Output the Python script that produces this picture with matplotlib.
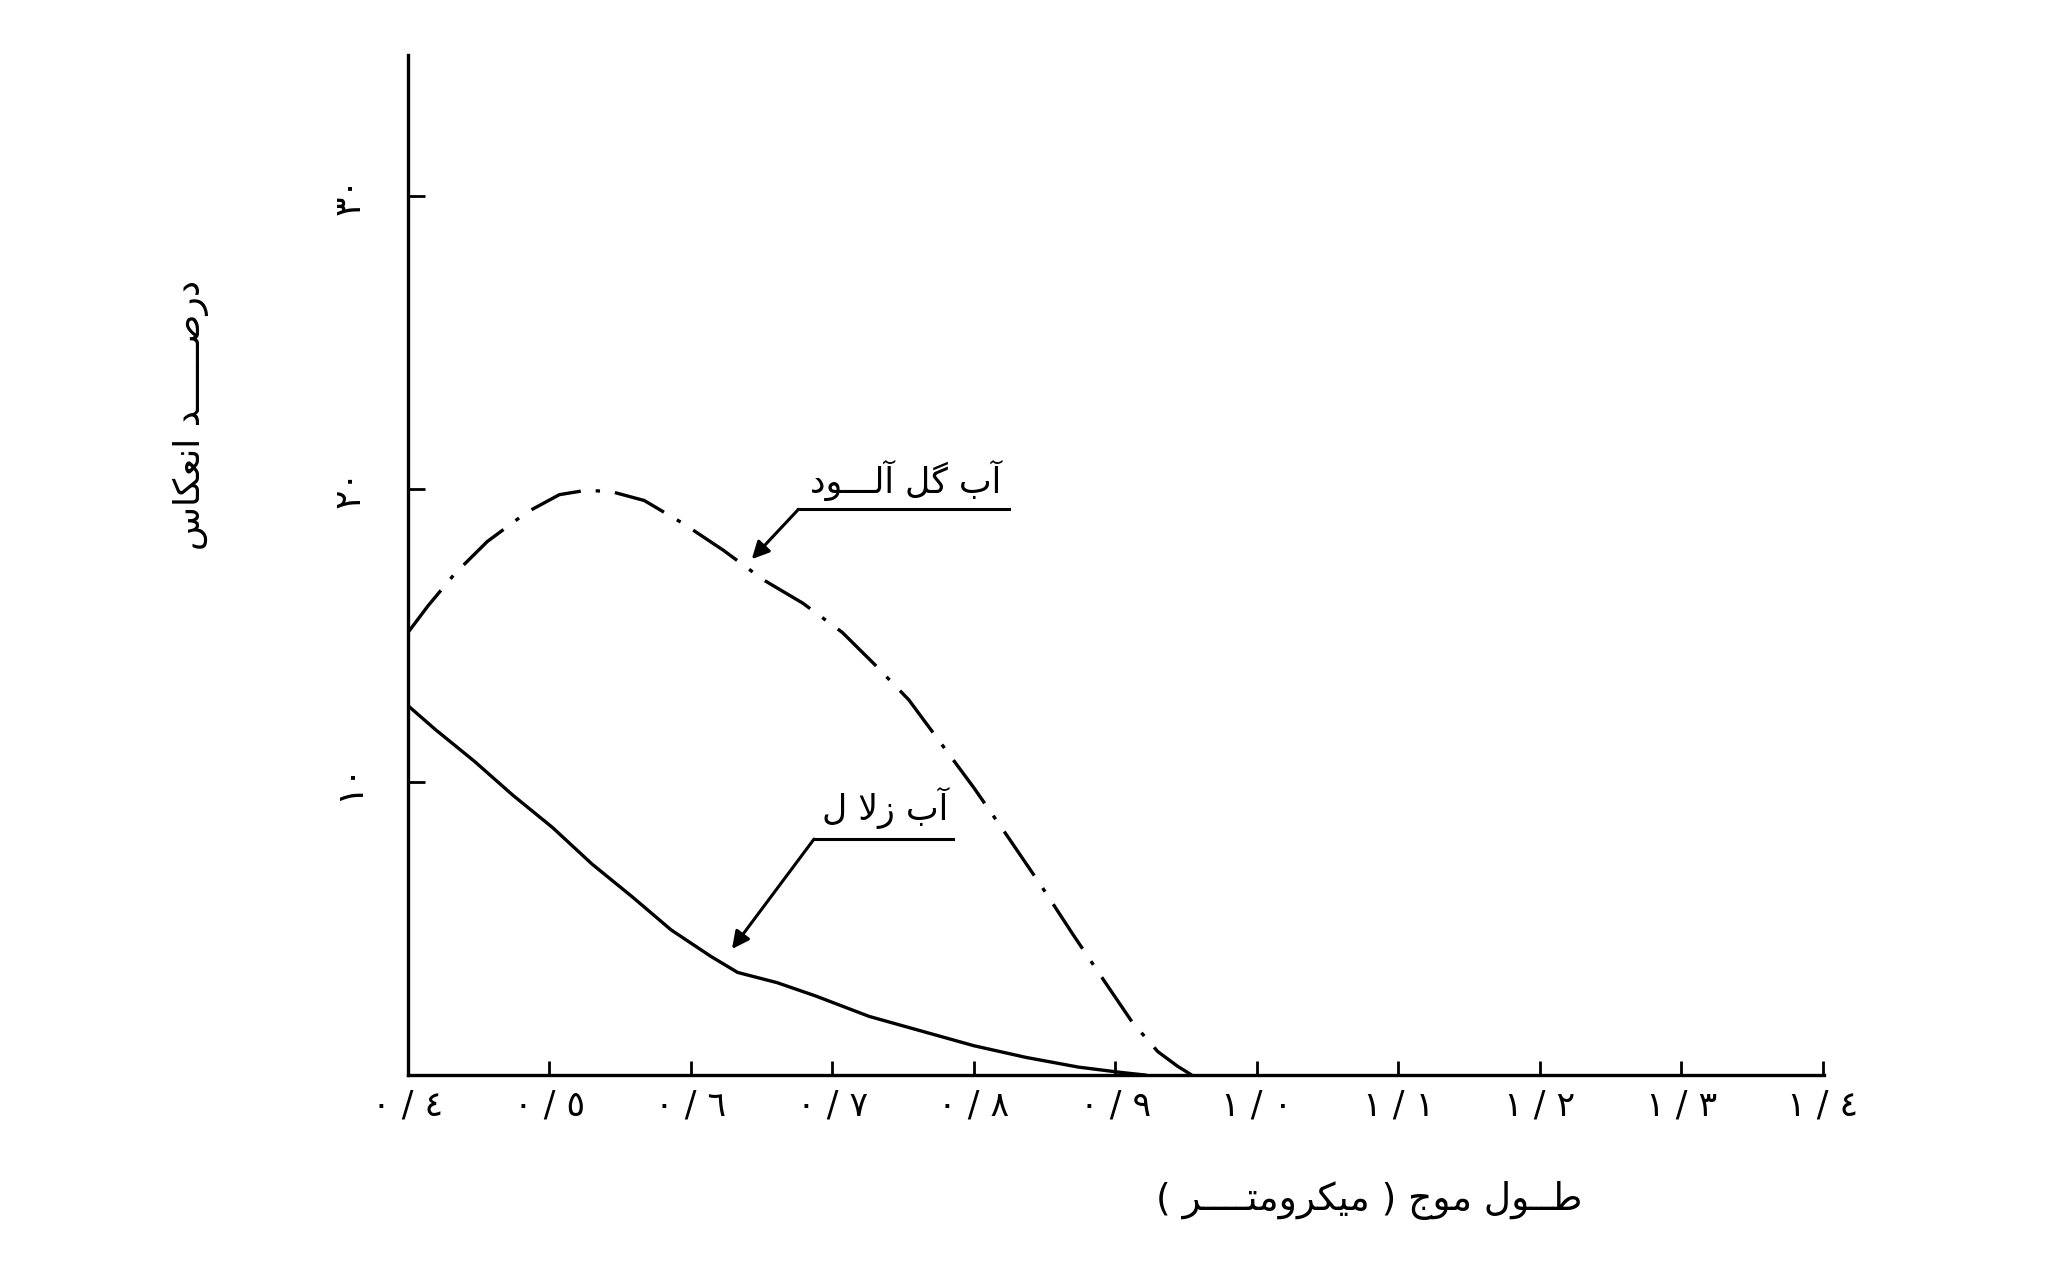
import matplotlib
matplotlib.use('Agg')
import matplotlib.pyplot as plt

# wavelength (micrometre) and reflectance (%)
muddy_x = [0.400, 0.414, 0.433, 0.456, 0.484, 0.507, 0.526, 0.544, 0.567, 0.595,
           0.623, 0.651, 0.679, 0.707, 0.730, 0.754, 0.777, 0.800, 0.823, 0.847,
           0.870, 0.893, 0.912, 0.930, 0.944, 0.954]
muddy_y = [15.1, 16.0, 17.1, 18.2, 19.2, 19.8, 19.95, 19.9, 19.6, 18.8,
           17.9, 16.9, 16.1, 15.1, 14.0, 12.8, 11.3, 9.8, 8.2, 6.5,
           4.8, 3.15, 1.8, 0.8, 0.3, 0.0]
clear_x = [0.400, 0.419, 0.447, 0.474, 0.502, 0.530, 0.558, 0.586, 0.614, 0.633,
           0.661, 0.688, 0.726, 0.763, 0.800, 0.837, 0.874, 0.902, 0.921]
clear_y = [12.6, 11.8, 10.7, 9.55, 8.45, 7.2, 6.1, 4.95, 4.05, 3.5,
           3.15, 2.7, 2.0, 1.5, 1.0, 0.6, 0.27, 0.1, 0.0]

x_ticks = [0.4, 0.5, 0.6, 0.7, 0.8, 0.9, 1.0, 1.1, 1.2, 1.3, 1.4]
x_labels = ['٠ / ٤', '٠ / ٥', '٠ / ٦', '٠ / ٧', '٠ / ٨', '٠ / ٩',
            '١ / ٠', '١ / ١', '١ / ٢', '١ / ٣', '١ / ٤']
y_ticks = [10, 20, 30]
y_labels = ['١٠', '٢٠', '٣٠']

x_title = 'طــول موج ( میکرومتــــر )'
y_title = 'درصــــــد انعکاس'
muddy_name = 'آب گل آلـــود'
clear_name = 'آب زلا ل'

# matplotlib has no arabic shaping, so pick presentation forms by hand
FORMS = {
    'ا': ('\uFE8D', '\uFE8E', None, None),
    'آ': ('\uFE81', '\uFE82', None, None),
    'ب': ('\uFE8F', '\uFE90', '\uFE91', '\uFE92'),
    'ت': ('\uFE95', '\uFE96', '\uFE97', '\uFE98'),
    'ج': ('\uFE9D', '\uFE9E', '\uFE9F', '\uFEA0'),
    'د': ('\uFEA9', '\uFEAA', None, None),
    'ر': ('\uFEAD', '\uFEAE', None, None),
    'ز': ('\uFEAF', '\uFEB0', None, None),
    'س': ('\uFEB1', '\uFEB2', '\uFEB3', '\uFEB4'),
    'ص': ('\uFEB9', '\uFEBA', '\uFEBB', '\uFEBC'),
    'ط': ('\uFEC1', '\uFEC2', '\uFEC3', '\uFEC4'),
    'ع': ('\uFEC9', '\uFECA', '\uFECB', '\uFECC'),
    'ل': ('\uFEDD', '\uFEDE', '\uFEDF', '\uFEE0'),
    'م': ('\uFEE1', '\uFEE2', '\uFEE3', '\uFEE4'),
    'ن': ('\uFEE5', '\uFEE6', '\uFEE7', '\uFEE8'),
    'و': ('\uFEED', '\uFEEE', None, None),
    'ی': ('\uFBFC', '\uFBFD', '\uFBFE', '\uFBFF'),
    'ک': ('\uFB8E', '\uFB8F', '\uFB90', '\uFB91'),
    'گ': ('\uFB92', '\uFB93', '\uFB94', '\uFB95'),
    'ـ': ('ـ', 'ـ', 'ـ', 'ـ'),
}
LAM_ALEF = {'ا': ('\uFEFB', '\uFEFC'), 'آ': ('\uFEF5', '\uFEF6')}


def shape(s):
    out = []
    i = 0
    while i < len(s):
        c = s[i]
        if c not in FORMS:
            out.append(c)
            i += 1
            continue
        prev = s[i - 1] if i > 0 else None
        nxt = s[i + 1] if i + 1 < len(s) else None
        join_prev = prev in FORMS and FORMS[prev][2] is not None
        if c == 'ل' and nxt in LAM_ALEF:
            out.append(LAM_ALEF[nxt][1 if join_prev else 0])
            i += 2
            continue
        join_next = nxt in FORMS and FORMS[c][2] is not None
        iso, fin, ini, med = FORMS[c]
        if join_prev and join_next:
            out.append(med)
        elif join_prev:
            out.append(fin)
        elif join_next:
            out.append(ini)
        else:
            out.append(iso)
        i += 1
    vis = ''.join(reversed(out))
    return vis.translate(str.maketrans('()', ')('))


plt.rcParams['font.family'] = 'DejaVu Sans'
fig = plt.figure(figsize=(20.65, 12.64), dpi=100)
ax = fig.add_axes([0.1976, 0.1495, 0.6857, 0.807])

ax.plot(clear_x, clear_y, color='black', lw=2.4)
ax.plot(muddy_x, muddy_y, color='black', lw=2.4, linestyle=(0, (16, 4.5, 1.3, 4.5)))

ax.set_xlim(0.4, 1.401)
ax.set_ylim(0, 34.8)
for s in ['top', 'right']:
    ax.spines[s].set_visible(False)
for s in ['left', 'bottom']:
    ax.spines[s].set_linewidth(2.4)

ax.set_xticks(x_ticks)
ax.set_xticklabels(x_labels, fontsize=25)
ax.set_yticks(y_ticks)
ax.set_yticklabels(y_labels, fontsize=26, rotation=90, va='center')
ax.tick_params(axis='x', direction='in', length=10, width=2, pad=10)
ax.tick_params(axis='y', direction='in', length=12, width=2, pad=30)

# callouts
ax.plot([0.676, 0.825], [19.3, 19.3], color='black', lw=2.2)
ax.annotate('', xy=(0.643, 17.6), xytext=(0.676, 19.3),
            arrowprops=dict(arrowstyle='-|>', color='black', lw=2.2, mutation_scale=26,
                            shrinkA=0, shrinkB=0))
ax.text(0.752, 19.6, shape(muddy_name), fontsize=25, ha='center', va='bottom')

ax.plot([0.687, 0.785], [8.05, 8.05], color='black', lw=2.2)
ax.annotate('', xy=(0.629, 4.3), xytext=(0.687, 8.05),
            arrowprops=dict(arrowstyle='-|>', color='black', lw=2.2, mutation_scale=26,
                            shrinkA=0, shrinkB=0))
ax.text(0.737, 8.4, shape(clear_name), fontsize=25, ha='center', va='bottom')

fig.text(0.0925, 0.672, shape(y_title), fontsize=26, rotation=90, ha='center', va='center')
fig.text(0.663, 0.05, shape(x_title), fontsize=27, ha='center', va='center')

fig.savefig('out.png', dpi=100, facecolor='white')
